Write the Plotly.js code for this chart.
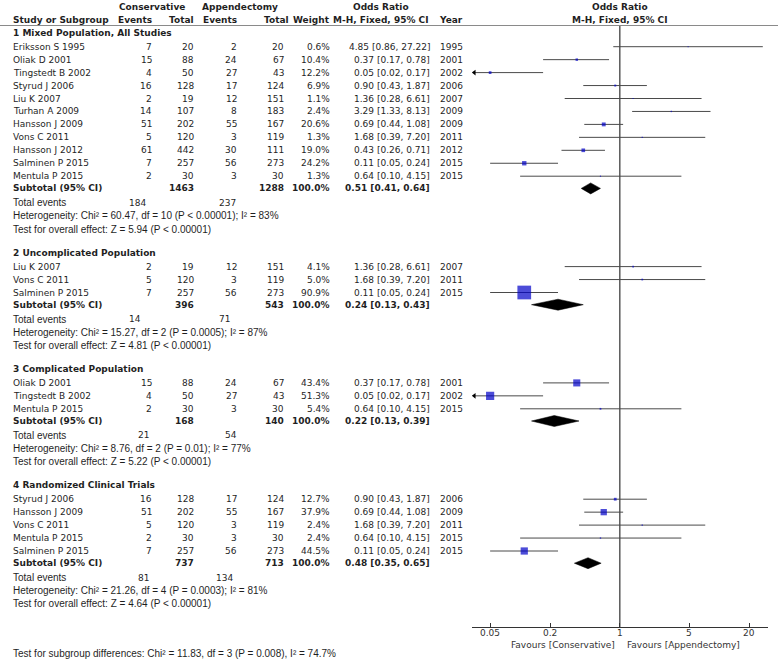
<!DOCTYPE html>
<html><head><meta charset="utf-8">
<script src="https://cdn.plot.ly/plotly-3.0.1.min.js"></script>
<style>html,body{margin:0;padding:0;background:#fff}#chart{width:778px;height:661px}</style>
</head><body><div id="chart"></div>
<script>
// ---------------- DATA ----------------
const groupTitles = ["1 Mixed Population, All Studies", "2 Uncomplicated Population", "3 Complicated Population", "4 Randomized Clinical Trials"];

const g1Study = ["Eriksson S 1995","Oliak D 2001","Tingstedt B 2002","Styrud J 2006","Liu K 2007","Turhan A 2009","Hansson J 2009","Vons C 2011","Hansson J 2012","Salminen P 2015","Mentula P 2015"];
const g1ConsEvents = [7,15,4,16,2,14,51,5,61,7,2];
const g1ConsTotal  = [20,88,50,128,19,107,202,120,442,257,30];
const g1AppEvents  = [2,24,27,17,12,8,55,3,30,56,3];
const g1AppTotal   = [20,67,43,124,151,183,167,119,111,273,30];
const g1Weight     = [0.6,10.4,12.2,6.9,1.1,2.4,20.6,1.3,19.0,24.2,1.3];
const g1OR         = [4.85,0.37,0.05,0.90,1.36,3.29,0.69,1.68,0.43,0.11,0.64];
const g1Lo         = [0.86,0.17,0.02,0.43,0.28,1.33,0.44,0.39,0.26,0.05,0.10];
const g1Hi         = [27.22,0.78,0.17,1.87,6.61,8.13,1.08,7.20,0.71,0.24,4.15];
const g1Year       = [1995,2001,2002,2006,2007,2009,2009,2011,2012,2015,2015];

const g2Study = ["Liu K 2007","Vons C 2011","Salminen P 2015"];
const g2ConsEvents = [2,5,7];
const g2ConsTotal  = [19,120,257];
const g2AppEvents  = [12,3,56];
const g2AppTotal   = [151,119,273];
const g2Weight     = [4.1,5.0,90.9];
const g2OR         = [1.36,1.68,0.11];
const g2Lo         = [0.28,0.39,0.05];
const g2Hi         = [6.61,7.20,0.24];
const g2Year       = [2007,2011,2015];

const g3Study = ["Oliak D 2001","Tingstedt B 2002","Mentula P 2015"];
const g3ConsEvents = [15,4,2];
const g3ConsTotal  = [88,50,30];
const g3AppEvents  = [24,27,3];
const g3AppTotal   = [67,43,30];
const g3Weight     = [43.4,51.3,5.4];
const g3OR         = [0.37,0.05,0.64];
const g3Lo         = [0.17,0.02,0.10];
const g3Hi         = [0.78,0.17,4.15];
const g3Year       = [2001,2002,2015];

const g4Study = ["Styrud J 2006","Hansson J 2009","Vons C 2011","Mentula P 2015","Salminen P 2015"];
const g4ConsEvents = [16,51,5,2,7];
const g4ConsTotal  = [128,202,120,30,257];
const g4AppEvents  = [17,55,3,3,56];
const g4AppTotal   = [124,167,119,30,273];
const g4Weight     = [12.7,37.9,2.4,2.4,44.5];
const g4OR         = [0.90,0.69,1.68,0.64,0.11];
const g4Lo         = [0.43,0.44,0.39,0.10,0.05];
const g4Hi         = [1.87,1.08,7.20,4.15,0.24];
const g4Year       = [2006,2009,2011,2015,2015];

const subConsTotal = [1463,396,168,737];
const subAppTotal  = [1288,543,140,713];
const subOR        = [0.51,0.24,0.22,0.48];
const subLo        = [0.41,0.13,0.13,0.35];
const subHi        = [0.64,0.43,0.39,0.65];
const totEvCons    = [184,14,21,81];
const totEvApp     = [237,71,54,134];
const hetChi       = ["60.47","15.27","8.76","21.26"];
const hetDf        = [10,2,2,4];
const hetP         = ["< 0.00001","= 0.0005","= 0.01","= 0.0003"];
const hetI2        = [83,87,77,81];
const zVal         = ["5.94","4.81","5.22","4.64"];
const zP           = ["< 0.00001","< 0.00001","< 0.00001","< 0.00001"];
const subgroupDiff = "Test for subgroup differences: Chi² = 11.83, df = 3 (P = 0.008), I² = 74.7%";

const tickVals = [0.05,0.2,1,5,20];
const tickText = ["0.05","0.2","1","5","20"];

// ---------------- LAYOUT HELPERS ----------------
const W = 778, H = 661;
const logRange = [-1.486, 1.49];
const axisLeftPx = 471.7, axisRightPx = 768.3, axisY = 627.3;
const groups = [
  {s:g1Study,ce:g1ConsEvents,ct:g1ConsTotal,ae:g1AppEvents,at:g1AppTotal,w:g1Weight,or:g1OR,lo:g1Lo,hi:g1Hi,yr:g1Year},
  {s:g2Study,ce:g2ConsEvents,ct:g2ConsTotal,ae:g2AppEvents,at:g2AppTotal,w:g2Weight,or:g2OR,lo:g2Lo,hi:g2Hi,yr:g2Year},
  {s:g3Study,ce:g3ConsEvents,ct:g3ConsTotal,ae:g3AppEvents,at:g3AppTotal,w:g3Weight,or:g3OR,lo:g3Lo,hi:g3Hi,yr:g3Year},
  {s:g4Study,ce:g4ConsEvents,ct:g4ConsTotal,ae:g4AppEvents,at:g4AppTotal,w:g4Weight,or:g4OR,lo:g4Lo,hi:g4Hi,yr:g4Year}
];
// total-events number placement per group (layout only)
const totEvPlace = [
  {a:'left', x1:128, x2:218},
  {a:'left', x1:128, x2:218},
  {a:'right', x1:149.5, x2:238},
  {a:'right', x1:149.5, x2:233.5}
];

const C = {ev1:153, tot1:194.5, ev2:237.5, tot2:284.5, wt:331, ci:431, yr:464};
const TXT = '#1f1f1f';
const fRow = {family:'DejaVu Sans', size:9, color:TXT};
const fSans = {family:'Liberation Sans', size:10, color:TXT};
const annotations = [];
function t(x, y, s, anchor, font){
  annotations.push({xref:'paper', yref:'y', x:x/W, y:y, text:s, showarrow:false,
    xanchor:anchor, yanchor:'middle', font:font, borderpad:0});
}
const b = s => '<b>'+s+'</b>';
const f2 = v => v.toFixed(2);
const ciTxt = (o,l,h) => f2(o)+' ['+f2(l)+', '+f2(h)+']';

// Headers
t(152, 6.5, b('Conservative'), 'center', fRow);
t(240, 6.5, b('Appendectomy'), 'center', fRow);
t(381, 6.5, b('Odds Ratio'), 'center', fRow);
t(620, 6.5, b('Odds Ratio'), 'center', fRow);
t(12, 19.5, b('Study or Subgroup'), 'left', fRow);
t(C.ev1, 19.5, b('Events'), 'right', fRow);
t(C.tot1, 19.5, b('Total'), 'right', fRow);
t(C.ev2, 19.5, b('Events'), 'right', fRow);
t(289.5, 19.5, b('Total'), 'right', fRow);
t(C.wt, 19.5, b('Weight'), 'right', fRow);
t(381, 19.5, b('M-H, Fixed, 95% CI'), 'center', fRow);
t(C.yr, 19.5, b('Year'), 'right', fRow);
t(620, 19.5, b('M-H, Fixed, 95% CI'), 'center', fRow);

// Trace builders
const ciX=[], ciY=[], sqX=[], sqY=[], sqS=[], dX=[], dY=[], arX=[], arY=[];
const xMin = Math.pow(10, logRange[0]);
const pxPerDec = (axisRightPx-axisLeftPx)/(logRange[1]-logRange[0]);

let y = 32.7;
const step = 12.95;
groups.forEach((g, gi) => {
  t(12, y, b(groupTitles[gi]), 'left', fRow);
  y += 14;
  g.s.forEach((name, i) => {
    t(12, y, name, 'left', fRow);
    t(C.ev1, y, String(g.ce[i]), 'right', fRow);
    t(C.tot1, y, String(g.ct[i]), 'right', fRow);
    t(C.ev2, y, String(g.ae[i]), 'right', fRow);
    t(C.tot2, y, String(g.at[i]), 'right', fRow);
    t(C.wt, y, g.w[i].toFixed(1)+'%', 'right', fRow);
    t(C.ci, y, ciTxt(g.or[i], g.lo[i], g.hi[i]), 'right', fRow);
    t(C.yr, y, String(g.yr[i]), 'right', fRow);
    let lo = g.lo[i];
    if (lo < xMin) {
      const ax = Math.pow(10, logRange[0] + 2.6/pxPerDec);
      arX.push(ax); arY.push(y);
      lo = ax;
    }
    ciX.push(lo, g.hi[i], null); ciY.push(y, y, null);
    sqX.push(g.or[i]); sqY.push(y); sqS.push(1.0 + 0.14*g.w[i]);
    if (i < g.s.length-1) y += step;
  });
  y += 12.2;
  t(12, y, b('Subtotal (95% CI)'), 'left', fRow);
  t(C.tot1, y, b(String(subConsTotal[gi])), 'right', fRow);
  t(C.tot2, y, b(String(subAppTotal[gi])), 'right', fRow);
  t(C.wt, y, b('100.0%'), 'right', fRow);
  t(C.ci, y, b(ciTxt(subOR[gi], subLo[gi], subHi[gi])), 'right', fRow);
  dX.push(subLo[gi], subOR[gi], subHi[gi], subOR[gi], subLo[gi], null);
  dY.push(y, y-5.5, y, y+5.5, y, null);
  y += 14.4;
  t(12, y, 'Total events', 'left', fSans);
  const p = totEvPlace[gi];
  t(p.x1, y, String(totEvCons[gi]), p.a, fRow);
  t(p.x2, y, String(totEvApp[gi]), p.a, fRow);
  y += 13;
  t(12, y, 'Heterogeneity: Chi² = '+hetChi[gi]+', df = '+hetDf[gi]+' (P '+hetP[gi]+'); I² = '+hetI2[gi]+'%', 'left', fSans);
  y += 13.3;
  t(12, y, 'Test for overall effect: Z = '+zVal[gi]+' (P '+zP[gi]+')', 'left', fSans);
  y += 23.5;
});

t(12, 653, subgroupDiff, 'left', fSans);
const fTick = {family:'DejaVu Sans', size:9, color:'#333'};
t(615.5, 645.3, 'Favours [Conservative]', 'right', fTick);
t(625.5, 645.3, 'Favours [Appendectomy]', 'left', fTick);
// tick labels, positioned on the log axis
tickVals.forEach((v, i) => {
  annotations.push({xref:'x', yref:'y', x:Math.log10(v), y:633.2, text:tickText[i], showarrow:false,
    xanchor:'center', yanchor:'middle', font:fTick, borderpad:0});
});

const traces = [
  {x:[1,1], y:[26, axisY], mode:'lines', line:{color:'#5a5a5a', width:1.5}, hoverinfo:'skip', xaxis:'x', yaxis:'y'},
  {x:ciX, y:ciY, mode:'lines', line:{color:'#4a4a4a', width:1}, hoverinfo:'skip', connectgaps:false, xaxis:'x', yaxis:'y'},
  {x:sqX, y:sqY, mode:'markers', marker:{symbol:'square', size:sqS, color:'#0000c8', line:{width:0}}, hoverinfo:'skip', xaxis:'x', yaxis:'y'},
  {x:arX, y:arY, mode:'markers', marker:{symbol:'triangle-left', size:5, color:'#000', line:{width:0}}, hoverinfo:'skip', xaxis:'x', yaxis:'y'},
  {x:dX, y:dY, mode:'lines', fill:'toself', fillcolor:'#000', line:{color:'#000', width:0.5}, hoverinfo:'skip', xaxis:'x', yaxis:'y'}
];

const layout = {
  width:W, height:H, margin:{l:0,r:0,t:0,b:0,pad:0},
  paper_bgcolor:'#fff', plot_bgcolor:'rgba(0,0,0,0)',
  showlegend:false,
  xaxis:{type:'log', domain:[axisLeftPx/W, axisRightPx/W], range:logRange, anchor:'free',
    position:(H-axisY)/H, showline:true, linecolor:'#333', linewidth:1, showgrid:false, zeroline:false,
    ticks:'inside', ticklen:4, tickwidth:1, tickcolor:'#333', tickvals:tickVals, ticktext:tickText,
    showticklabels:false, automargin:false, fixedrange:true},
  yaxis:{domain:[0,1], range:[H,0], visible:false, fixedrange:true, automargin:false},
  shapes:[{type:'line', xref:'paper', yref:'y', x0:0, x1:1, y0:25.5, y1:25.5, line:{color:'#8a8a8a', width:1}}],
  annotations:annotations
};
Plotly.newPlot('chart', traces, layout, {staticPlot:true, displayModeBar:false});
</script>
</body></html>
